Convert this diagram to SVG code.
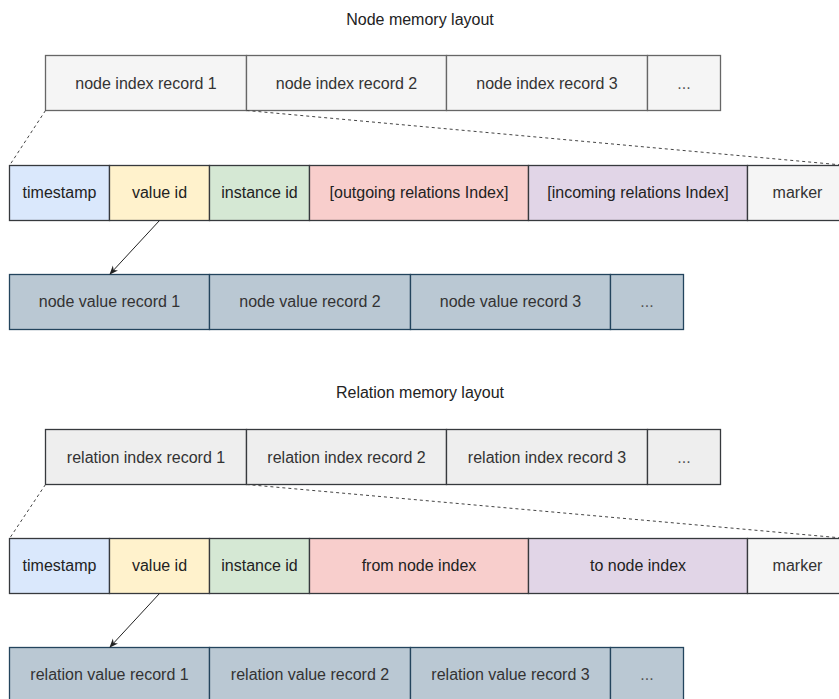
<svg xmlns="http://www.w3.org/2000/svg" width="839" height="699" viewBox="0 0 839 699">
<style>
text{font-family:"Liberation Sans",Arial,sans-serif;font-size:16px;text-anchor:middle;fill:#222}
.t{fill:#222}
.g{fill:#333}
rect{stroke-width:1.3}
.ni{fill:#f5f5f5;stroke:#666666}
.ri{fill:#eeeeee;stroke:#36393d}
.ts{fill:#dae8fc;stroke:#36393d}
.vi{fill:#fff2cc;stroke:#36393d}
.ii{fill:#d5e8d4;stroke:#36393d}
.out{fill:#f8cecc;stroke:#36393d}
.inc{fill:#e1d5e7;stroke:#36393d}
.mk{fill:#f5f5f5;stroke:#36393d}
.vr{fill:#bac8d3;stroke:#23445d}
.dash{fill:none;stroke:#444;stroke-width:1;stroke-dasharray:3 3}
.arr{fill:none;stroke:#222;stroke-width:1}
.dots{fill:#555}
</style>
<defs>
<marker id="ah" viewBox="0 0 10 10" refX="9" refY="5" markerWidth="9" markerHeight="9" orient="auto" markerUnits="userSpaceOnUse">
<path d="M0,1 L10,5 L0,9 L3,5 Z" fill="#222"/>
</marker>
</defs>

<text id="title-node" x="420" y="25">Node memory layout</text>

<g id="node-index-1"><rect class="ni" x="45.5" y="55.5" width="201" height="55"/><text class="g" x="146" y="89">node index record 1</text></g>
<g id="node-index-2"><rect class="ni" x="246.5" y="55.5" width="200" height="55"/><text class="g" x="346.5" y="89">node index record 2</text></g>
<g id="node-index-3"><rect class="ni" x="446.5" y="55.5" width="201" height="55"/><text class="g" x="547" y="89">node index record 3</text></g>
<g id="node-index-more"><rect class="ni" x="647.5" y="55.5" width="73" height="55"/><text class="dots" x="684" y="89">...</text></g>

<g id="node-ts"><rect class="ts" x="9.5" y="165.5" width="100" height="55"/><text x="59.5" y="198">timestamp</text></g>
<g id="node-vid"><rect class="vi" x="109.5" y="165.5" width="100" height="55"/><text x="159.5" y="198">value id</text></g>
<g id="node-iid"><rect class="ii" x="209.5" y="165.5" width="100" height="55"/><text x="259.5" y="198">instance id</text></g>
<g id="node-out"><rect class="out" x="309.5" y="165.5" width="219" height="55"/><text x="419" y="198">[outgoing relations Index]</text></g>
<g id="node-inc"><rect class="inc" x="528.5" y="165.5" width="219" height="55"/><text x="638" y="198">[incoming relations Index]</text></g>
<g id="node-marker"><rect class="mk" x="747.5" y="165.5" width="100" height="55"/><text class="g" x="797.5" y="198">marker</text></g>

<g id="node-value-1"><rect class="vr" x="9.5" y="274.5" width="200" height="55"/><text class="g" x="109.5" y="307">node value record 1</text></g>
<g id="node-value-2"><rect class="vr" x="209.5" y="274.5" width="201" height="55"/><text class="g" x="310" y="307">node value record 2</text></g>
<g id="node-value-3"><rect class="vr" x="410.5" y="274.5" width="200" height="55"/><text class="g" x="510.5" y="307">node value record 3</text></g>
<g id="node-value-more"><rect class="vr" x="610.5" y="274.5" width="73" height="55"/><text class="dots" x="647" y="307">...</text></g>

<text id="title-relation" x="420" y="398">Relation memory layout</text>

<g id="rel-index-1"><rect class="ri" x="45.5" y="429.5" width="201" height="55"/><text class="g" x="146" y="463">relation index record 1</text></g>
<g id="rel-index-2"><rect class="ri" x="246.5" y="429.5" width="200" height="55"/><text class="g" x="346.5" y="463">relation index record 2</text></g>
<g id="rel-index-3"><rect class="ri" x="446.5" y="429.5" width="201" height="55"/><text class="g" x="547" y="463">relation index record 3</text></g>
<g id="rel-index-more"><rect class="ri" x="647.5" y="429.5" width="73" height="55"/><text class="dots" x="684" y="463">...</text></g>

<g id="rel-ts"><rect class="ts" x="9.5" y="538.5" width="100" height="55"/><text x="59.5" y="571">timestamp</text></g>
<g id="rel-vid"><rect class="vi" x="109.5" y="538.5" width="100" height="55"/><text x="159.5" y="571">value id</text></g>
<g id="rel-iid"><rect class="ii" x="209.5" y="538.5" width="100" height="55"/><text x="259.5" y="571">instance id</text></g>
<g id="rel-from"><rect class="out" x="309.5" y="538.5" width="219" height="55"/><text x="419" y="571">from node index</text></g>
<g id="rel-to"><rect class="inc" x="528.5" y="538.5" width="219" height="55"/><text x="638" y="571">to node index</text></g>
<g id="rel-marker"><rect class="mk" x="747.5" y="538.5" width="100" height="55"/><text class="g" x="797.5" y="571">marker</text></g>

<g id="rel-value-1"><rect class="vr" x="9.5" y="647.5" width="200" height="55"/><text class="g" x="109.5" y="680">relation value record 1</text></g>
<g id="rel-value-2"><rect class="vr" x="209.5" y="647.5" width="201" height="55"/><text class="g" x="310" y="680">relation value record 2</text></g>
<g id="rel-value-3"><rect class="vr" x="410.5" y="647.5" width="200" height="55"/><text class="g" x="510.5" y="680">relation value record 3</text></g>
<g id="rel-value-more"><rect class="vr" x="610.5" y="647.5" width="73" height="55"/><text class="dots" x="647" y="680">...</text></g>

<g id="connectors">
<line class="dash" x1="45.5" y1="110.5" x2="9.5" y2="165.5"/>
<line class="dash" x1="246.5" y1="110.5" x2="847.5" y2="165.5"/>
<line class="arr" x1="159.5" y1="220.5" x2="110" y2="274" marker-end="url(#ah)"/>
<line class="dash" x1="45.5" y1="484.5" x2="9.5" y2="538.5"/>
<line class="dash" x1="246.5" y1="484.5" x2="847.5" y2="538.5"/>
<line class="arr" x1="159.5" y1="593.5" x2="110" y2="647" marker-end="url(#ah)"/>
</g>
</svg>
